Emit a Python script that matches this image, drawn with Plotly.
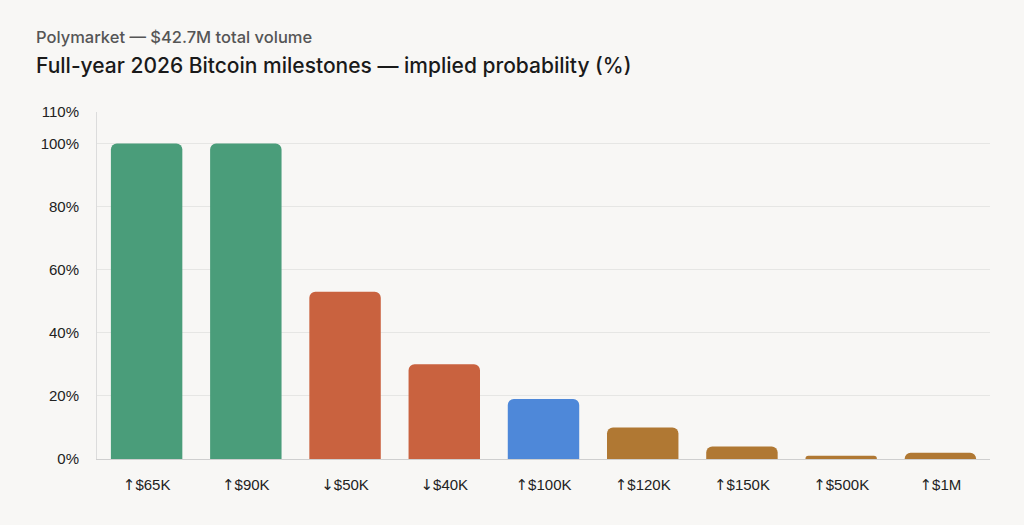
import plotly.graph_objects as go

# Polymarket full-year 2026 Bitcoin milestones
MILESTONES = ["↑$65K", "↑$90K", "↓$50K", "↓$40K", "↑$100K", "↑$120K", "↑$150K", "↑$500K", "↑$1M"]
PROBABILITY = [100, 100, 53, 30, 19, 10, 4, 1, 2]
BAR_COLORS = ["#4a9d7a", "#4a9d7a", "#c9623f", "#c9623f", "#4e88d9",
              "#b07833", "#b07833", "#b07833", "#b07833"]
Y_TICKS = [0, 20, 40, 60, 80, 100, 110]
Y_TICK_LABELS = ["0%", "20%", "40%", "60%", "80%", "100%", "110%"]

BG = "#f8f7f5"
TITLE_FONT = "Inter"
TICK_FONT = "Liberation Sans, DejaVu Sans, sans-serif"


def arrow_label(name):
    # draw the arrow glyph with DejaVu so it matches the thin full-height arrow
    arrow, rest = name[0], name[1:]
    return ('<span style="font-family:DejaVu Sans;color:#222222">%s</span>%s'
            % (arrow, rest))


fig = go.Figure(
    go.Bar(
        x=MILESTONES,
        y=PROBABILITY,
        marker=dict(color=BAR_COLORS, cornerradius=6, line=dict(width=0)),
        hovertemplate="%{x}: %{y}%<extra></extra>",
    )
)

fig.update_layout(
    width=1024,
    height=525,
    margin=dict(l=97, r=34, t=112, b=66),
    paper_bgcolor=BG,
    plot_bgcolor=BG,
    bargap=0.28,
    showlegend=False,
    font=dict(family=TICK_FONT, color="#222222", size=15),
    annotations=[
        dict(
            text="Polymarket — $42.7M total volume",
            xref="paper", yref="paper",
            x=-0.0705, y=1.216,
            xanchor="left", yanchor="middle",
            showarrow=False,
            font=dict(family=TITLE_FONT, size=16.5, color="#555555", weight=500),
        ),
        dict(
            text="Full-year 2026 Bitcoin milestones — implied probability (%)",
            xref="paper", yref="paper",
            x=-0.0705, y=1.133,
            xanchor="left", yanchor="middle",
            showarrow=False,
            font=dict(family=TITLE_FONT, size=21, color="#1a1a1a", weight=500),
        ),
    ],
)

fig.update_xaxes(
    tickmode="array",
    tickvals=MILESTONES,
    ticktext=[arrow_label(m) for m in MILESTONES],
    showgrid=False,
    showline=True,
    linecolor="#cfcfcf",
    linewidth=1,
    ticks="",
    ticklabelstandoff=12,
    tickfont=dict(size=15, color="#222222"),
)
fig.update_yaxes(
    range=[0, 110],
    tickmode="array",
    tickvals=Y_TICKS,
    ticktext=Y_TICK_LABELS,
    showgrid=True,
    gridcolor="#e6e6e4",
    gridwidth=1,
    zeroline=False,
    showline=True,
    linecolor="#dcdcdc",
    ticks="",
    ticklabelstandoff=14,
    tickfont=dict(size=15, color="#222222"),
)

fig.write_html(
    "out.html",
    config={"displayModeBar": False},
    post_script="document.body.style.margin='0';document.body.style.background='%s';" % BG,
)
